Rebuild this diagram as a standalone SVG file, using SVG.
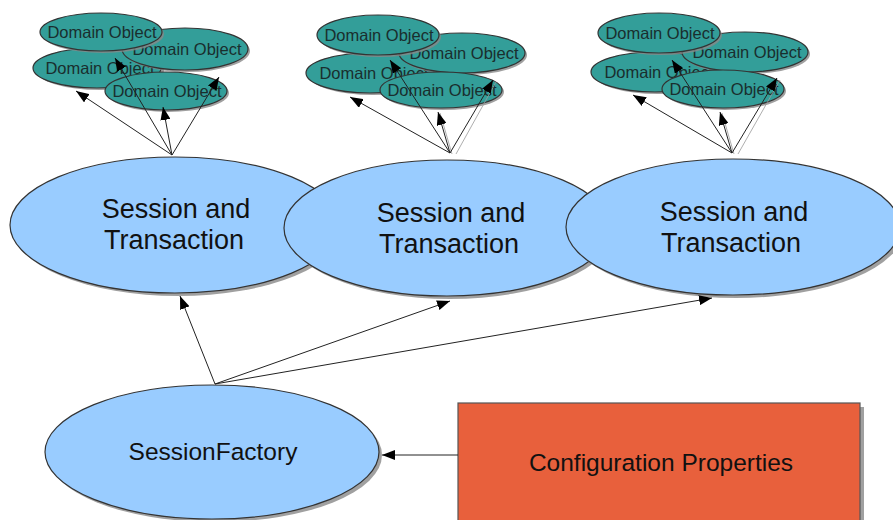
<svg xmlns="http://www.w3.org/2000/svg" width="893" height="520" viewBox="0 0 893 520">
<style>
.sess{fill:#99CCFF;stroke:#333;stroke-width:1.2}
.shadow{fill:#888;opacity:0.8}
.dom{fill:#339E99;stroke:#333;stroke-width:1.2}
.dt{font-family:"Liberation Sans",Arial,sans-serif;font-size:16.5px;fill:#1a2e2e;text-anchor:middle}
.st{font-family:"Liberation Sans",Arial,sans-serif;font-size:27px;fill:#111;text-anchor:middle}
.ft{font-family:"Liberation Sans",Arial,sans-serif;font-size:24.5px;fill:#111;text-anchor:middle}
.cf{fill:#E8603C;stroke:#555;stroke-width:1.2}
.ln{stroke:#222;stroke-width:1;fill:none;marker-end:url(#ah)}
.ln2{stroke:#999;stroke-width:0.8;fill:none}
</style>
<defs>
<marker id="ah" viewBox="0 0 13 10" refX="13" refY="5" markerWidth="13" markerHeight="10" markerUnits="userSpaceOnUse" orient="auto">
<path d="M0,0 L13,5 L0,10 Z" fill="#000"/>
</marker>
</defs>

<g id="session1">
<ellipse class="shadow" cx="178" cy="228" rx="165" ry="68"/>
<ellipse class="sess" cx="175" cy="225" rx="165" ry="68"/>
<text class="st" x="176" y="218">Session and</text>
<text class="st" x="174" y="249">Transaction</text>
</g>
<g id="session2">
<ellipse class="shadow" cx="450" cy="231" rx="163" ry="68"/>
<ellipse class="sess" cx="447" cy="228" rx="163" ry="68"/>
<text class="st" x="451" y="222">Session and</text>
<text class="st" x="449" y="253">Transaction</text>
</g>
<g id="session3">
<ellipse class="shadow" cx="736" cy="230" rx="167" ry="68"/>
<ellipse class="sess" cx="733" cy="227" rx="167" ry="68"/>
<text class="st" x="734" y="221">Session and</text>
<text class="st" x="731" y="252">Transaction</text>
</g>

<g id="domain1">
<ellipse class="shadow" cx="100" cy="70" rx="64" ry="20"/>
<ellipse class="dom" cx="97" cy="68" rx="64" ry="20"/>
<text class="dt" x="100" y="74">Domain Object</text>
<ellipse class="shadow" cx="187" cy="51" rx="63" ry="21"/>
<ellipse class="dom" cx="185" cy="49" rx="63" ry="21"/>
<text class="dt" x="187" y="55">Domain Object</text>
<ellipse class="shadow" cx="168" cy="93" rx="61" ry="19"/>
<ellipse class="dom" cx="166" cy="91" rx="61" ry="19"/>
<text class="dt" x="167" y="97">Domain Object</text>
<ellipse class="shadow" cx="103" cy="34" rx="61" ry="19"/>
<ellipse class="dom" cx="101" cy="32" rx="61" ry="19"/>
<text class="dt" x="102" y="38">Domain Object</text>
</g>
<g id="domain2">
<ellipse class="shadow" cx="373" cy="75" rx="64" ry="20"/>
<ellipse class="dom" cx="370" cy="73" rx="64" ry="20"/>
<text class="dt" x="374" y="79">Domain Object</text>
<ellipse class="shadow" cx="464" cy="55" rx="63" ry="20"/>
<ellipse class="dom" cx="462" cy="53" rx="63" ry="20"/>
<text class="dt" x="464" y="59">Domain Object</text>
<ellipse class="shadow" cx="443" cy="92" rx="61" ry="18"/>
<ellipse class="dom" cx="441" cy="90" rx="61" ry="18"/>
<text class="dt" x="442" y="96">Domain Object</text>
<ellipse class="shadow" cx="380" cy="37" rx="61" ry="20"/>
<ellipse class="dom" cx="378" cy="35" rx="61" ry="20"/>
<text class="dt" x="379" y="41">Domain Object</text>
</g>
<g id="domain3">
<ellipse class="shadow" cx="658" cy="74" rx="64" ry="20"/>
<ellipse class="dom" cx="655" cy="72" rx="64" ry="20"/>
<text class="dt" x="659" y="78">Domain Object</text>
<ellipse class="shadow" cx="747" cy="54" rx="63" ry="20"/>
<ellipse class="dom" cx="745" cy="52" rx="63" ry="20"/>
<text class="dt" x="747" y="58">Domain Object</text>
<ellipse class="shadow" cx="725" cy="91" rx="61" ry="19"/>
<ellipse class="dom" cx="723" cy="89" rx="61" ry="19"/>
<text class="dt" x="724" y="95">Domain Object</text>
<ellipse class="shadow" cx="661" cy="35" rx="61" ry="20"/>
<ellipse class="dom" cx="659" cy="33" rx="61" ry="20"/>
<text class="dt" x="660" y="39">Domain Object</text>
</g>

<g id="sessionfactory">
<ellipse class="shadow" cx="215" cy="455" rx="167" ry="67"/>
<ellipse class="sess" cx="212" cy="452" rx="167" ry="67"/>
<text class="ft" x="213" y="460">SessionFactory</text>
</g>

<g id="config">
<rect class="shadow" x="462" y="407" width="402" height="130"/>
<rect class="cf" x="458" y="403" width="402" height="130"/>
<text class="ft" x="661" y="471">Configuration Properties</text>
</g>

<g id="connectors">
<line class="ln2" x1="456" y1="154" x2="496" y2="82"/>
<line class="ln2" x1="738" y1="154" x2="780" y2="80"/>
<line class="ln2" x1="452" y1="154" x2="440" y2="113"/>
<line class="ln2" x1="734" y1="154" x2="722" y2="113"/>
<line class="ln" x1="172" y1="155" x2="76" y2="91"/>
<line class="ln" x1="172" y1="155" x2="115" y2="58"/>
<line class="ln" x1="172" y1="155" x2="163" y2="107"/>
<line class="ln" x1="172" y1="155" x2="219" y2="77"/>
<line class="ln" x1="450" y1="153" x2="350" y2="97"/>
<line class="ln" x1="450" y1="153" x2="390" y2="60"/>
<line class="ln" x1="450" y1="153" x2="438" y2="112"/>
<line class="ln" x1="450" y1="153" x2="493" y2="80"/>
<line class="ln" x1="732" y1="153" x2="633" y2="95"/>
<line class="ln" x1="732" y1="153" x2="672" y2="60"/>
<line class="ln" x1="732" y1="153" x2="720" y2="112"/>
<line class="ln" x1="732" y1="153" x2="777" y2="78"/>
<line class="ln" x1="215" y1="384" x2="180" y2="296"/>
<line class="ln" x1="215" y1="384" x2="450" y2="301"/>
<line class="ln" x1="215" y1="384" x2="712" y2="298"/>
<line class="ln" x1="458" y1="455" x2="382" y2="455"/>
</g>
</svg>
